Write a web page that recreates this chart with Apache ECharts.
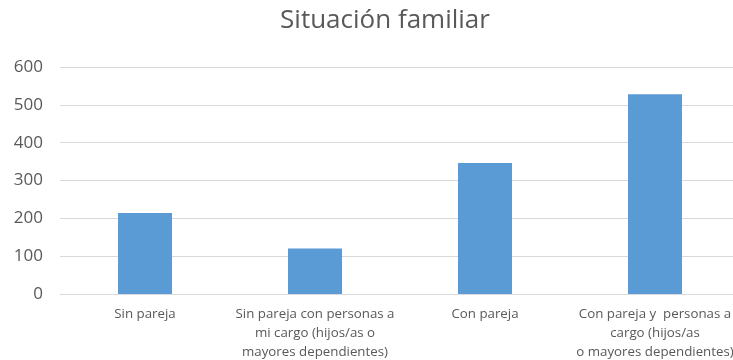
<!DOCTYPE html>
<html>
<head>
<meta charset="utf-8">
<script src="https://cdn.jsdelivr.net/npm/echarts@6/dist/echarts.min.js"></script>
<style>
  html, body { margin: 0; padding: 0; background: #fff; }
  #chart { width: 733px; height: 360px; }
</style>
</head>
<body>
<div id="chart"></div>
<script>
// Situación familiar: respuestas por categoría
const categories = [
  'Sin pareja',
  'Sin pareja con personas a\nmi cargo (hijos/as o\nmayores dependientes)',
  'Con pareja',
  'Con pareja y  personas a\ncargo (hijos/as\no mayores dependientes)'
];
const values = [214, 120, 346, 528];
const yTicks = [0, 100, 200, 300, 400, 500, 600];

const chart = echarts.init(document.getElementById('chart'));
const font = '"Open Sans", "Liberation Sans", sans-serif';

chart.setOption({
  animation: false,
  title: {
    text: 'Situación familiar',
    left: 380,
    textAlign: 'center',
    top: 3,
    textStyle: { fontFamily: font, fontSize: 26, fontWeight: 'normal', color: '#595959' }
  },
  grid: { left: 60, right: -7, top: 67, bottom: 66, containLabel: false, outerBoundsMode: 'none' },
  xAxis: {
    type: 'category',
    data: categories,
    axisLine: { lineStyle: { color: '#d9d9d9' } },
    axisTick: { show: false },
    axisLabel: {
      interval: 0,
      margin: 11,
      fontFamily: font,
      fontSize: 13.3,
      lineHeight: 19,
      color: '#595959',
      align: 'center'
    }
  },
  yAxis: {
    type: 'value',
    min: yTicks[0],
    max: yTicks[yTicks.length - 1],
    interval: 100,
    axisLine: { show: false },
    axisTick: { show: false },
    splitLine: { lineStyle: { color: '#d9d9d9' } },
    axisLabel: {
      margin: 17,
      fontFamily: font,
      fontSize: 17,
      color: '#595959'
    }
  },
  series: [{
    type: 'bar',
    data: values,
    barWidth: 54,
    itemStyle: { color: '#5b9bd5' }
  }]
});
</script>
</body>
</html>
